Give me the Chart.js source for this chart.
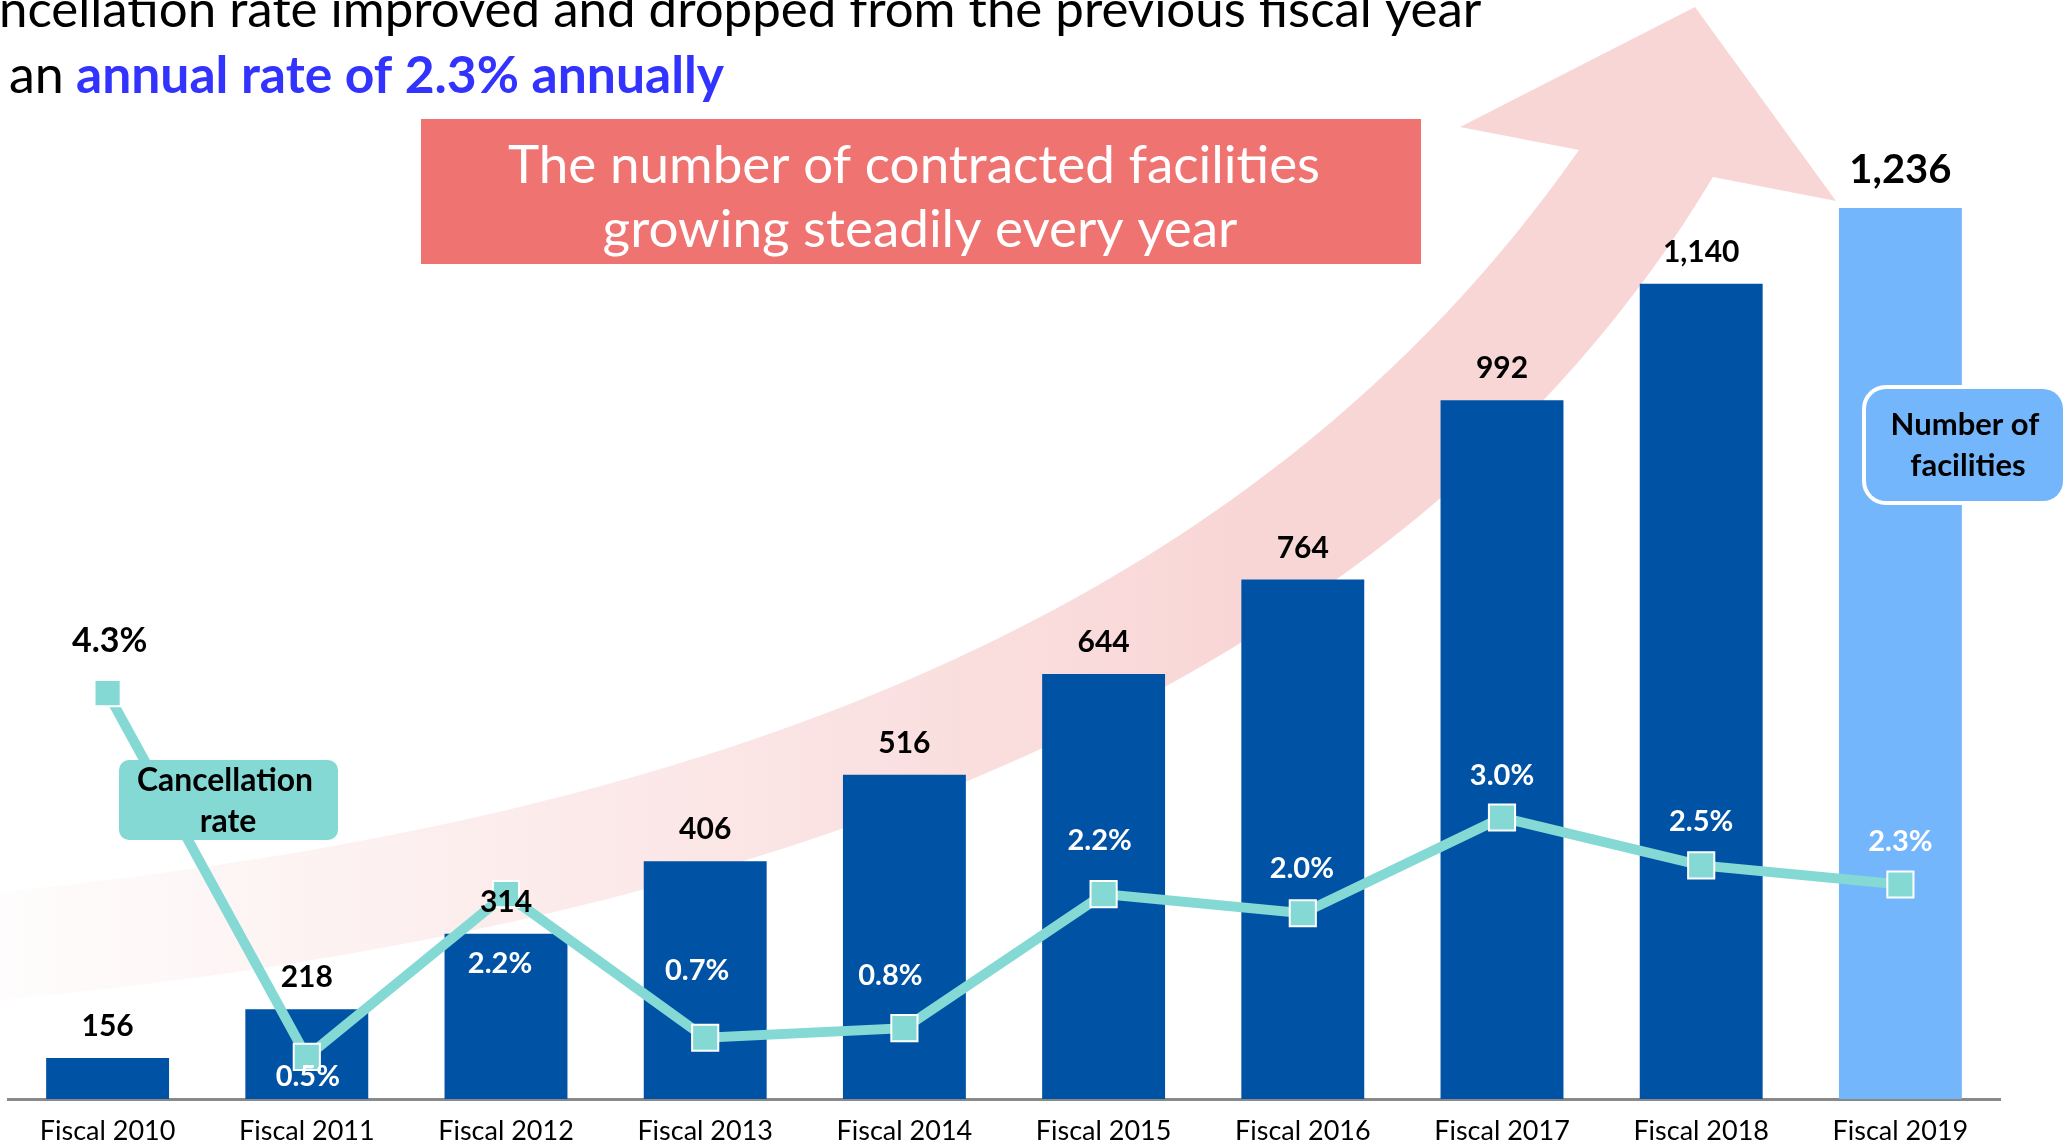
<!DOCTYPE html>
<html lang="en">
<head>
<meta charset="utf-8">
<title>Contracted facilities and cancellation rate</title>
<script src="https://cdn.jsdelivr.net/npm/chart.js@4.4.1/dist/chart.umd.min.js"></script>
<style>
  html, body { margin: 0; padding: 0; background: #fff; }
  canvas { display: block; }
</style>
</head>
<body>
<canvas id="myChart" width="2072" height="1146"></canvas>
<script>
// Fiscal years on the category axis
const fiscalYears = ['Fiscal 2010', 'Fiscal 2011', 'Fiscal 2012', 'Fiscal 2013', 'Fiscal 2014',
                     'Fiscal 2015', 'Fiscal 2016', 'Fiscal 2017', 'Fiscal 2018', 'Fiscal 2019'];

// Contracted facilities at year end
const facilities = [156, 218, 314, 406, 516, 644, 764, 992, 1140, 1236];

// Cancellation rate (%)
const cancellationRate = [4.3, 0.5, 2.2, 0.7, 0.8, 2.2, 2.0, 3.0, 2.5, 2.3];

// Nudge for each rate label relative to its point [dx, dy] in px
const rateLabelShift = [[2, -52], [1, 20], [-6, 70], [-8, -67], [-14, -53],
                        [-4, -53], [-1, -45], [0, -42], [0, -44], [0, -43]];

const FONT = "Lato, 'Open Sans', sans-serif";
const NAVY = '#0052A5';
const LIGHT_BLUE = '#74B6FC';
const TEAL = '#84D9D5';
const PINK = '249, 214, 214';

// Big curved "growth" arrow behind the bars
const growthArrow = {
    id: 'growthArrow',
    beforeDraw(chart) {
        const ctx = chart.ctx;
        ctx.save();
        ctx.fillStyle = '#ffffff';
        ctx.fillRect(0, 0, chart.width, chart.height);

        const grad = ctx.createLinearGradient(0, 0, 1250, 0);
        grad.addColorStop(0, 'rgba(' + PINK + ', 0.06)');
        grad.addColorStop(0.45, 'rgba(' + PINK + ', 0.5)');
        grad.addColorStop(1, 'rgba(' + PINK + ', 1)');
        ctx.fillStyle = grad;

        ctx.beginPath();
        ctx.moveTo(0, 892);
        ctx.bezierCurveTo(700, 822, 1250, 620, 1579, 150);
        ctx.lineTo(1460, 127);
        ctx.lineTo(1695, 7);
        ctx.lineTo(1836, 201);
        ctx.lineTo(1713, 177);
        ctx.bezierCurveTo(1400, 700, 750, 930, 0, 1000);
        ctx.closePath();
        ctx.fill();
        ctx.restore();
    }
};

function roundBox(ctx, x, y, w, h, r, fill, stroke, strokeWidth) {
    ctx.beginPath();
    ctx.roundRect(x, y, w, h, r);
    if (stroke) {
        ctx.lineWidth = strokeWidth;
        ctx.strokeStyle = stroke;
        ctx.stroke();
    }
    ctx.fillStyle = fill;
    ctx.fill();
}

// Series callouts plus the value labels on bars and points
const annotations = {
    id: 'annotations',
    afterDatasetsDraw(chart) {
        const ctx = chart.ctx;
        ctx.save();

        // callout boxes
        roundBox(ctx, 1866, 389, 197, 112, 20, LIGHT_BLUE, '#ffffff', 8);
        roundBox(ctx, 119, 760, 219, 80, 10, TEAL);

        ctx.fillStyle = '#000';
        ctx.textAlign = 'center';
        ctx.textBaseline = 'alphabetic';
        ctx.font = 'bold 31px ' + FONT;
        ctx.fillText('Number of', 1965, 435, 156);
        ctx.fillText('facilities', 1968, 476, 120);
        ctx.font = 'bold 32px ' + FONT;
        ctx.fillText('Cancellation', 225, 791, 176);
        ctx.fillText('rate', 228, 832);

        // facility counts above the bars
        const bars = chart.getDatasetMeta(1).data;
        bars.forEach((bar, i) => {
            const last = i === bars.length - 1;
            ctx.font = 'bold ' + (last ? 40 : 30) + 'px ' + FONT;
            ctx.fillStyle = '#000';
            ctx.fillText(facilities[i].toLocaleString('en-US'), bar.x, bar.y - (last ? 25 : 22));
        });

        // cancellation rate labels
        const points = chart.getDatasetMeta(0).data;
        ctx.textBaseline = 'middle';
        points.forEach((pt, i) => {
            const [dx, dy] = rateLabelShift[i];
            ctx.font = 'bold ' + (i === 0 ? 34 : 29) + 'px ' + FONT;
            ctx.fillStyle = i === 0 ? '#000' : '#ffffff';
            ctx.fillText(cancellationRate[i].toFixed(1) + '%', pt.x + dx, pt.y + dy);
        });
        ctx.restore();
    }
};

// Headline text and the red banner
const headline = {
    id: 'headline',
    afterDraw(chart) {
        const ctx = chart.ctx;
        ctx.save();
        ctx.textBaseline = 'alphabetic';
        ctx.textAlign = 'left';

        ctx.fillStyle = '#000';
        ctx.font = '51px ' + FONT;
        ctx.fillText('ncellation rate improved and dropped from the previous fiscal year', -1, 27, 1488);
        ctx.font = '52px ' + FONT;
        ctx.fillText('an', 9, 93, 58);
        ctx.fillStyle = '#3333FF';
        ctx.font = 'bold 52px ' + FONT;
        ctx.fillText('annual rate of 2.3% annually', 76, 93, 648);

        ctx.fillStyle = '#EE7371';
        ctx.fillRect(421, 119, 1000, 145);
        ctx.fillStyle = '#ffffff';
        ctx.textAlign = 'center';
        ctx.font = '53px ' + FONT;
        ctx.fillText('The number of contracted facilities', 914, 183, 815);
        ctx.fillText('growing steadily every year', 920, 247, 640);
        ctx.restore();
    }
};

const config = {
    type: 'bar',
    data: {
        labels: fiscalYears,
        datasets: [
            {
                type: 'line',
                label: 'Cancellation rate',
                data: cancellationRate,
                yAxisID: 'yRate',
                order: 0,
                borderColor: TEAL,
                borderWidth: 10,
                tension: 0,
                pointStyle: 'rect',
                pointRadius: 18.5,
                pointBackgroundColor: TEAL,
                pointBorderColor: '#ffffff',
                pointBorderWidth: 2,
                clip: false
            },
            {
                type: 'bar',
                label: 'Number of facilities',
                data: facilities,
                yAxisID: 'yCount',
                order: 1,
                backgroundColor: facilities.map((v, i) => i === facilities.length - 1 ? LIGHT_BLUE : NAVY),
                barPercentage: 0.617,
                categoryPercentage: 1
            }
        ]
    },
    options: {
        responsive: false,
        animation: false,
        devicePixelRatio: 1,
        layout: {
            autoPadding: false,
            padding: { top: 155, left: 8, right: 72, bottom: -18 }
        },
        plugins: {
            legend: { display: false },
            tooltip: { enabled: false }
        },
        scales: {
            x: {
                grid: { display: false, drawTicks: false },
                border: { display: true, color: '#898989', width: 3 },
                ticks: {
                    color: '#000',
                    padding: 19,
                    font: { family: FONT, size: 27, lineHeight: 1 }
                }
            },
            yCount: { display: false, min: 104, max: 1303.5 },
            yRate: { display: false, min: 0.06, max: 9.92 }
        }
    },
    plugins: [growthArrow, annotations, headline]
};

const facilitiesChart = new Chart(document.getElementById('myChart'), config);
</script>
</body>
</html>
